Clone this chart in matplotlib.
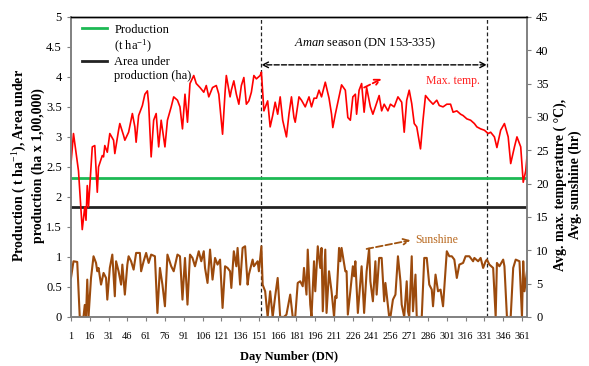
import matplotlib
matplotlib.use("Agg")
import matplotlib.pyplot as plt
from matplotlib.lines import Line2D
from matplotlib.ticker import FuncFormatter

plt.rcParams['font.family'] = ['Liberation Serif', 'DejaVu Serif']
plt.rcParams['mathtext.fontset'] = 'custom'
plt.rcParams['mathtext.rm'] = 'Liberation Serif'
plt.rcParams['mathtext.it'] = 'Liberation Serif:italic'
plt.rcParams['mathtext.bf'] = 'Liberation Serif:bold'

# --- data ---
production = 2.32      # t/ha
area = 1.84            # ha x 1,00,000
aman_start, aman_end = 153, 333

temp_days = [1, 3, 7, 10, 12, 13, 14, 15, 18, 20, 22, 23, 26, 27, 28, 30, 32, 35, 36, 39,
             40, 43, 44, 47, 50, 52, 53, 55, 58, 60, 62, 63, 65, 67, 69, 71, 73, 76, 78, 81,
             83, 86, 88, 90, 92, 94, 96, 99, 101, 104, 107, 109, 111, 114, 117, 119, 122, 124, 125, 128,
             129, 131, 133, 135, 137, 139, 141, 143, 145, 147, 149, 152, 153, 155, 158, 160, 162, 164, 166, 168,
             170, 173, 175, 177, 179, 180, 183, 185, 188, 191, 193, 195, 197, 199, 201, 204, 207, 209, 210, 212,
             215, 217, 220, 222, 224, 226, 228, 229, 231, 233, 235, 237, 240, 242, 244, 247, 249, 251, 254, 256,
             259, 262, 265, 267, 269, 271, 273, 275, 277, 280, 282, 284, 287, 290, 293, 295, 298, 301, 304, 306,
             309, 312, 314, 317, 320, 323, 325, 328, 331, 334, 336, 339, 341, 344, 347, 350, 352, 355, 357, 360,
             362, 364, 365]
temp_vals = [23, 27.5, 21.9, 13.1, 16.5, 14.5, 19.7, 16.5, 25.5, 25.7, 18.7, 22.5, 24.2, 24, 25.7, 24.7, 27.5, 26.5, 24.5, 28,
             29, 27.2, 26.5, 27.7, 30.5, 28.5, 26.2, 30.2, 31.7, 33.4, 33.9, 32, 24, 29.5, 30.5, 25.5, 29.5, 25.5, 29.5, 31.5,
             33, 32.5, 31.5, 28.2, 33.4, 29.2, 35, 36.2, 35, 34.4, 33.7, 34.7, 33, 34.4, 34.7, 33.4, 27.4, 33.7, 36.2, 33,
             34, 35.4, 33.4, 31.9, 34.7, 35.9, 31.9, 32.4, 33.7, 36.2, 35.7, 36.2, 36.7, 30.9, 32.4, 28.5, 30.2, 32.2, 30.4, 33,
             29.5, 27, 30.4, 33, 29.9, 29.2, 33, 32.5, 31.5, 33, 31.5, 32.8, 32.8, 34, 33, 35.2, 32.8, 30.4, 28.4, 30.4,
             33, 34.8, 34, 29.9, 29.5, 33, 33.4, 30.4, 34, 35, 30.7, 34.4, 31.5, 30.4, 31.5, 33.2, 30.9, 31.9, 30.9, 31.9,
             31.5, 33, 32.2, 27.7, 32.5, 34, 32, 29, 28.5, 25.2, 29.5, 33.2, 32.5, 31.9, 32.5, 31.7, 31.5, 31.9, 31.9, 30.7,
             30.9, 30.4, 30.2, 29.7, 29.5, 29, 28.5, 28.2, 28, 27.5, 27.7, 27, 25.4, 28, 29, 27, 23, 25.5, 27, 25.5,
             20.2, 21.9, 24]

sun_days = [1, 3, 6, 8, 11, 12, 13, 14, 15, 17, 19, 21, 22, 23, 25, 27, 29, 30, 32, 34,
            36, 37, 39, 41, 42, 44, 46, 47, 49, 51, 53, 56, 57, 59, 61, 63, 65, 68, 70, 72,
            74, 76, 78, 81, 83, 86, 88, 90, 92, 94, 96, 98, 100, 102, 103, 105, 107, 108, 110, 112,
            114, 116, 118, 120, 122, 124, 126, 128, 129, 131, 133, 134, 136, 138, 140, 142, 143, 146, 147, 150,
            151, 153, 154, 156, 158, 160, 162, 164, 166, 168, 171, 173, 176, 178, 180, 182, 184, 186, 187, 189,
            190, 192, 193, 195, 196, 198, 200, 201, 202, 204, 205, 207, 209, 211, 212, 213, 215, 216, 217, 220,
            221, 222, 224, 226, 227, 228, 230, 233, 235, 237, 239, 240, 242, 244, 245, 247, 249, 251, 252, 255,
            256, 258, 260, 262, 264, 265, 267, 269, 270, 271, 273, 274, 276, 277, 281, 283, 285, 287, 289, 290,
            292, 294, 296, 298, 301, 303, 305, 307, 309, 311, 314, 316, 319, 322, 323, 326, 328, 330, 332, 333,
            335, 338, 340, 341, 343, 346, 347, 349, 352, 354, 356, 359, 361, 362, 363, 365]
sun_vals = [5.85, 8.35, 8.25, 0, 0, 1.8, 0, 5.6, 0, 5.85, 9.1, 8.1, 6.85, 7.35, 4.85, 6.6, 5.85, 2.6, 7.35, 9.35,
            3.1, 8.35, 6.85, 4.85, 7.85, 3.35, 7.85, 9.1, 8.35, 7.1, 9.6, 9.6, 6.85, 8.35, 9.6, 8.1, 9.35, 9.1, 0.6, 7.35,
            4.85, 1.6, 9.35, 7.6, 6.85, 9.35, 9.1, 2.6, 8.85, 1.85, 9.35, 8.85, 7.6, 9.1, 9.85, 8.35, 9.85, 7.35, 5.1, 10.1,
            5.6, 8.85, 7.85, 8.6, 1.35, 7.6, 7.35, 6.85, 4.35, 9.85, 7.6, 10.35, 4.85, 10.35, 10.6, 4.85, 6.35, 8.6, 7.6, 8.35,
            6.85, 10.6, 4.85, 3.85, 0, 3.85, 0, 3.1, 5.85, 0, 0, 0.35, 3.35, 0, 0, 5.1, 5.35, 4.6, 7.35, 3.35,
            10.1, 1.85, 0, 8.35, 3.85, 10.6, 7.35, 10.35, 0.85, 10.1, 0.6, 6.85, 3.85, 0, 3.1, 2.85, 10.35, 8.35, 10.35, 6.85,
            6.85, 0.35, 3.85, 7.6, 6.1, 8.35, 0.6, 7.6, 0.6, 6.85, 10.25, 5.35, 2.35, 8.35, 3.35, 8.85, 8.85, 2.35, 5.1, 0,
            0, 2.6, 3.35, 9.1, 5.35, 1.85, 0, 5.35, 0.85, 0, 9.1, 0.85, 6.35, 0, 0, 8.85, 8.85, 4.85, 4.1, 1.6,
            6.35, 3.85, 4.1, 1.6, 9.85, 9.1, 9.1, 8.6, 5.85, 7.85, 8.1, 9.1, 9.1, 8.35, 8.85, 8.35, 8.85, 7.35, 8.35, 8.6,
            7.85, 7.35, 0, 8.1, 7.6, 8.6, 7.6, 0, 0, 7.35, 8.6, 8.35, 0, 8.35, 3.85, 6.85]

xticks = list(range(1, 362, 15))

# --- figure ---
fig = plt.figure(figsize=(5.89, 3.66), dpi=100)
ax = fig.add_axes([0.1205, 0.134, 0.7742, 0.820])
ax2 = ax.twinx()

ax.axhline(production, color='#1db954', lw=2.0, zorder=3)
ax.axhline(area, color='#222222', lw=2.0, zorder=3)

ax2.plot(temp_days, temp_vals, color='#ff0000', lw=1.2)
ax2.plot(sun_days, sun_vals, color='#9c4a0c', lw=1.5)

for d in (aman_start, aman_end):
    ax.axvline(d, color='#222222', lw=0.9, ls=(0, (3, 2)))

ax.annotate('', xy=(aman_start, 4.2), xytext=(aman_end, 4.2),
            arrowprops=dict(arrowstyle='<->', ls='--', lw=1.0, color='black',
                            shrinkA=0, shrinkB=0))
ax.text((aman_start + aman_end) / 2 - 7, 4.56, r'$\it{Aman}$ season (DN 153-335)',
        ha='center', va='center', fontsize=9)

ax2.annotate('', xy=(249, 35.7), xytext=(235, 34.4),
             arrowprops=dict(arrowstyle='->', ls='--', lw=1.3, color='#ff0000',
                             shrinkA=0, shrinkB=0))
ax2.text(284, 35.4, 'Max. temp.', color='#ff2020', fontsize=8.5, va='center')
ax2.annotate('', xy=(272, 11.5), xytext=(237, 10.2),
             arrowprops=dict(arrowstyle='->', ls='--', lw=1.3, color='#a0520e',
                             shrinkA=0, shrinkB=0))
ax2.text(276, 11.6, 'Sunshine', color='#b8681e', fontsize=8.5, va='center')

# axes
ax.set_xlim(1, 365)
ax.set_ylim(0, 5)
ax.set_yticks([i * 0.5 for i in range(11)])
ax.yaxis.set_major_formatter(FuncFormatter(lambda v, p: f'{v:g}'))
ax2.set_ylim(0, 45)
ax2.set_yticks(range(0, 46, 5))
ax.set_xticks(xticks)
ax.tick_params(axis='x', labelsize=7.5, length=3, pad=8, direction='out', color='#7f7f7f')
ax.tick_params(axis='y', labelsize=9, length=3, direction='out', color='#7f7f7f')
ax2.tick_params(axis='y', labelsize=9, length=3, direction='out', color='#7f7f7f')

for a in (ax, ax2):
    for side in ('left', 'right', 'bottom'):
        a.spines[side].set_color('#808080')
        a.spines[side].set_linewidth(1.2)
    a.spines['top'].set_color('black')
    a.spines['top'].set_linewidth(1.0)

ax.set_xlabel('Day Number (DN)', fontsize=9, fontweight='bold')
ax.xaxis.set_label_coords((289 - 71) / 456, -0.115)
ax.set_ylabel('Production ( t ha$^{-1}$), Area under\nproduction (ha x 1,00,000)',
              fontsize=10, fontweight='bold', linespacing=1.15)
ax.yaxis.set_label_coords(-0.058, 0.505)
ax2.set_ylabel('Avg. max. temperature ( °C),\nAvg. sunshine (hr)',
               fontsize=10, fontweight='bold', linespacing=1.15)
ax2.yaxis.set_label_coords(1.058, 0.44)

handles = [Line2D([], [], color='#1db954', lw=2.0),
           Line2D([], [], color='none'),
           Line2D([], [], color='#222222', lw=2.0),
           Line2D([], [], color='none')]
labels = ['Production', '(t ha$^{-1}$)', 'Area under', 'production (ha)']
ax.legend(handles, labels, loc='upper left', frameon=False, fontsize=9,
          handlelength=2.0, handletextpad=0.6, labelspacing=0.15,
          borderaxespad=0.15, bbox_to_anchor=(0.009, 1.0))

fig.savefig('out.png', dpi=100)
